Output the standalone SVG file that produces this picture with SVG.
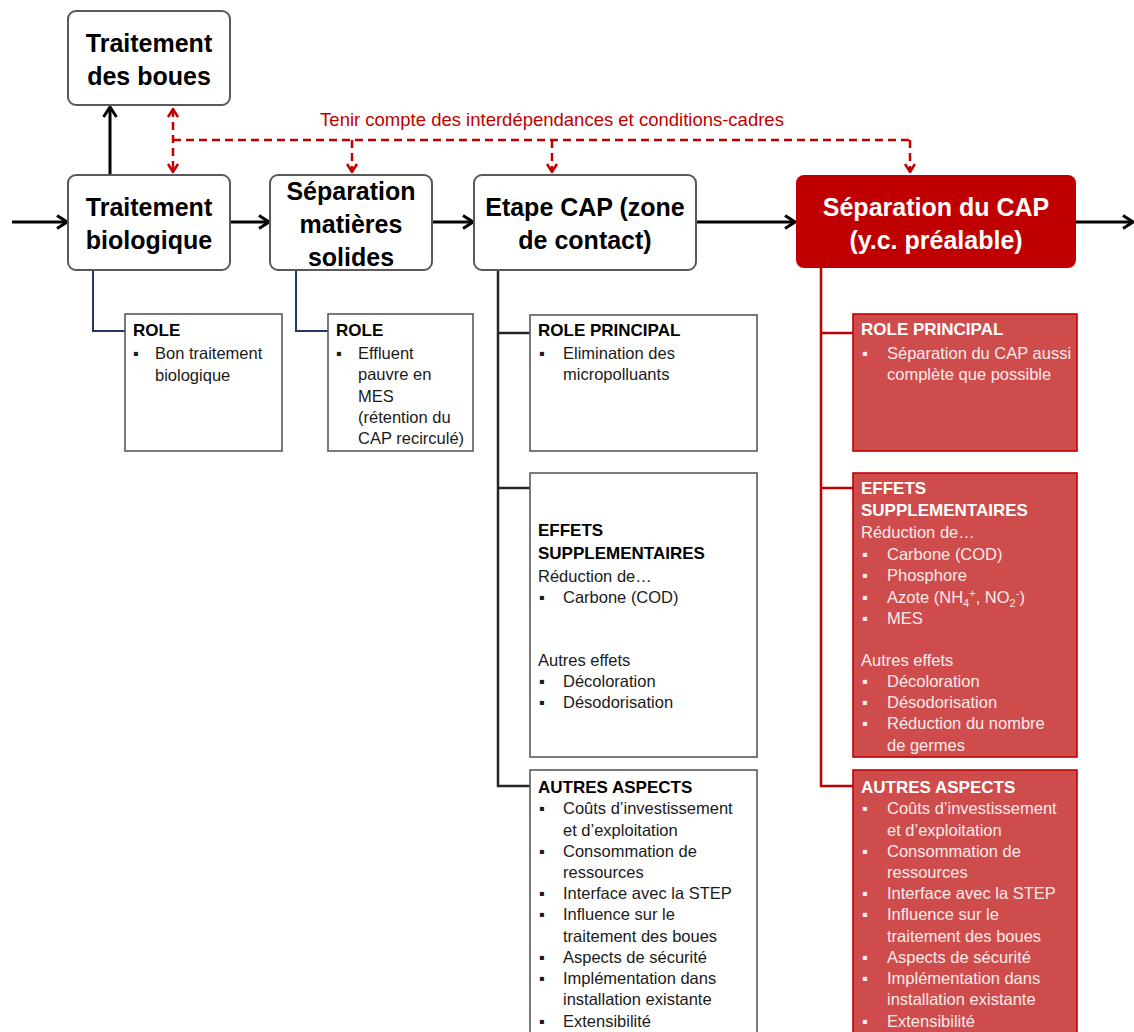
<svg xmlns="http://www.w3.org/2000/svg" width="1134" height="1032" viewBox="0 0 1134 1032">
<style>
text{font-family:"Liberation Sans",Arial,sans-serif}
.node{fill:#fff;stroke:#595959;stroke-width:2}
.title{font-size:25px;font-weight:bold;fill:#000;text-anchor:middle}
.wtitle{font-size:25px;font-weight:bold;fill:#fff;text-anchor:middle}
.card{fill:#fff;stroke:#595959;stroke-width:1.6}
.rcard{fill:#CF4C4C;stroke:#C00000;stroke-width:1.6}
.h{font-size:17px;font-weight:bold;fill:#000}
.t{font-size:16.5px;fill:#1a1a1a}
.rh{font-size:17px;font-weight:bold;fill:#fff}
.rt{font-size:16.5px;fill:#fbeaea}
.arrow{fill:none;stroke:#000;stroke-width:3;marker-end:url(#ah)}
.dash{fill:none;stroke:#C00000;stroke-width:2.5;stroke-dasharray:8 5}
.note{font-size:18.5px;fill:#C00000;text-anchor:middle}
</style>
<defs>
<marker id="ah" viewBox="0 0 12 16" refX="11" refY="8" markerWidth="12" markerHeight="16" markerUnits="userSpaceOnUse" orient="auto">
<path d="M1,1.5 L11,8 L1,14.5" fill="none" stroke="#000" stroke-width="3"/>
</marker>
<marker id="rh" viewBox="0 0 10 12" refX="9" refY="6" markerWidth="10" markerHeight="12" markerUnits="userSpaceOnUse" orient="auto-start-reverse">
<path d="M1,1 L9,6 L1,11" fill="none" stroke="#C00000" stroke-width="2.5"/>
</marker>
</defs>
<rect width="1134" height="1032" fill="#fff"/>

<g id="connectors">
<line class="arrow" x1="12" y1="222" x2="67" y2="222"/>
<line class="arrow" x1="230" y1="222" x2="269" y2="222"/>
<line class="arrow" x1="432" y1="222" x2="473" y2="222"/>
<line class="arrow" x1="696" y1="222" x2="795" y2="222"/>
<line class="arrow" x1="1076" y1="222" x2="1133" y2="222"/>
<line class="arrow" x1="110" y1="175" x2="110" y2="107"/>
<line class="dash" x1="173" y1="109" x2="173" y2="172" marker-start="url(#rh)" marker-end="url(#rh)"/>
<line class="dash" x1="173" y1="140" x2="910" y2="140"/>
<line class="dash" x1="352" y1="140" x2="352" y2="172" marker-end="url(#rh)"/>
<line class="dash" x1="552" y1="140" x2="552" y2="172" marker-end="url(#rh)"/>
<line class="dash" x1="910" y1="140" x2="910" y2="172" marker-end="url(#rh)"/>
<text class="note" x="552" y="126">Tenir compte des interdépendances et conditions-cadres</text>
<polyline points="93,270 93,331 125,331" fill="none" stroke="#1F3864" stroke-width="2"/>
<polyline points="296,270 296,331 328,331" fill="none" stroke="#1F3864" stroke-width="2"/>
<polyline points="498,270 498,786 530,786" fill="none" stroke="#262626" stroke-width="2.5"/>
<line x1="498" y1="333" x2="530" y2="333" stroke="#262626" stroke-width="2.5"/>
<line x1="498" y1="488" x2="530" y2="488" stroke="#262626" stroke-width="2.5"/>
<polyline points="821,268 821,786 853,786" fill="none" stroke="#C00000" stroke-width="2.5"/>
<line x1="821" y1="333" x2="853" y2="333" stroke="#C00000" stroke-width="2.5"/>
<line x1="821" y1="488" x2="853" y2="488" stroke="#C00000" stroke-width="2.5"/>
</g>

<g id="traitement-boues">
<rect class="node" x="68" y="11" width="162" height="94" rx="8"/>
<text class="title" x="149" y="52">Traitement</text>
<text class="title" x="149" y="85">des boues</text>
</g>
<g id="traitement-bio">
<rect class="node" x="68" y="175" width="162" height="95" rx="8"/>
<text class="title" x="149" y="216">Traitement</text>
<text class="title" x="149" y="249">biologique</text>
</g>
<g id="separation-ms">
<rect class="node" x="270" y="175" width="162" height="95" rx="8"/>
<text class="title" x="351" y="200">Séparation</text>
<text class="title" x="351" y="233">matières</text>
<text class="title" x="351" y="266">solides</text>
</g>
<g id="etape-cap">
<rect class="node" x="474" y="175" width="222" height="95" rx="8"/>
<text class="title" x="585" y="216">Etape CAP (zone</text>
<text class="title" x="585" y="249">de contact)</text>
</g>
<g id="separation-cap">
<rect x="796" y="175" width="280" height="93" rx="8" fill="#C00000"/>
<text class="wtitle" x="936" y="216">Séparation du CAP</text>
<text class="wtitle" x="936" y="249">(y.c. préalable)</text>
</g>

<g id="role-bio">
<rect class="card" x="125" y="314" width="157" height="137"/>
<text class="h" x="133" y="336">ROLE</text>
<text class="t" x="133" y="359">▪</text>
<text class="t" x="155" y="359">Bon traitement</text>
<text class="t" x="155" y="381">biologique</text>
</g>
<g id="role-sep">
<rect class="card" x="328" y="314" width="145" height="137"/>
<text class="h" x="336" y="336">ROLE</text>
<text class="t" x="336" y="359">▪</text>
<text class="t" x="358" y="359">Effluent</text>
<text class="t" x="358" y="380">pauvre en</text>
<text class="t" x="358" y="402">MES</text>
<text class="t" x="358" y="423">(rétention du</text>
<text class="t" x="358" y="444">CAP recirculé)</text>
</g>

<g id="cap-role">
<rect class="card" x="530" y="315" width="227" height="136"/>
<text class="h" x="538" y="336">ROLE PRINCIPAL</text>
<text class="t" x="539" y="359">▪</text>
<text class="t" x="563" y="359">Elimination des</text>
<text class="t" x="563" y="380">micropolluants</text>
</g>
<g id="cap-effets">
<rect class="card" x="530" y="473" width="227" height="284"/>
<text class="h" x="538" y="536">EFFETS</text>
<text class="h" x="538" y="559">SUPPLEMENTAIRES</text>
<text class="t" x="538" y="582">Réduction de…</text>
<text class="t" x="539" y="603">▪</text>
<text class="t" x="563" y="603">Carbone (COD)</text>
<text class="t" x="538" y="666">Autres effets</text>
<text class="t" x="539" y="687">▪</text>
<text class="t" x="563" y="687">Décoloration</text>
<text class="t" x="539" y="708">▪</text>
<text class="t" x="563" y="708">Désodorisation</text>
</g>
<g id="cap-autres">
<rect class="card" x="530" y="770" width="227" height="280"/>
<text class="h" x="538" y="793">AUTRES ASPECTS</text>
<text class="t" x="539" y="814">▪</text>
<text class="t" x="563" y="814">Coûts d’investissement</text>
<text class="t" x="563" y="836">et d’exploitation</text>
<text class="t" x="539" y="857">▪</text>
<text class="t" x="563" y="857">Consommation de</text>
<text class="t" x="563" y="878">ressources</text>
<text class="t" x="539" y="899">▪</text>
<text class="t" x="563" y="899">Interface avec la STEP</text>
<text class="t" x="539" y="920">▪</text>
<text class="t" x="563" y="920">Influence sur le</text>
<text class="t" x="563" y="942">traitement des boues</text>
<text class="t" x="539" y="963">▪</text>
<text class="t" x="563" y="963">Aspects de sécurité</text>
<text class="t" x="539" y="984">▪</text>
<text class="t" x="563" y="984">Implémentation dans</text>
<text class="t" x="563" y="1005">installation existante</text>
<text class="t" x="539" y="1027">▪</text>
<text class="t" x="563" y="1027">Extensibilité</text>
</g>

<g id="sep-role">
<rect class="rcard" x="853" y="314" width="224" height="137"/>
<text class="rh" x="861" y="335">ROLE PRINCIPAL</text>
<text class="rt" x="862" y="359">▪</text>
<text class="rt" x="887" y="359">Séparation du CAP aussi</text>
<text class="rt" x="887" y="380">complète que possible</text>
</g>
<g id="sep-effets">
<rect class="rcard" x="853" y="473" width="224" height="284"/>
<text class="rh" x="861" y="494">EFFETS</text>
<text class="rh" x="861" y="516">SUPPLEMENTAIRES</text>
<text class="rt" x="861" y="538">Réduction de…</text>
<text class="rt" x="862" y="560">▪</text>
<text class="rt" x="887" y="560">Carbone (COD)</text>
<text class="rt" x="862" y="581">▪</text>
<text class="rt" x="887" y="581">Phosphore</text>
<text class="rt" x="862" y="603">▪</text>
<text class="rt" x="887" y="603">Azote (NH<tspan font-size="11" dy="4">4</tspan><tspan font-size="11" dy="-10">+</tspan><tspan dy="6">, NO</tspan><tspan font-size="11" dy="4">2</tspan><tspan font-size="11" dy="-10">-</tspan><tspan dy="6">)</tspan></text>
<text class="rt" x="862" y="624">▪</text>
<text class="rt" x="887" y="624">MES</text>
<text class="rt" x="861" y="666">Autres effets</text>
<text class="rt" x="862" y="687">▪</text>
<text class="rt" x="887" y="687">Décoloration</text>
<text class="rt" x="862" y="708">▪</text>
<text class="rt" x="887" y="708">Désodorisation</text>
<text class="rt" x="862" y="729">▪</text>
<text class="rt" x="887" y="729">Réduction du nombre</text>
<text class="rt" x="887" y="751">de germes</text>
</g>
<g id="sep-autres">
<rect class="rcard" x="853" y="770" width="224" height="280"/>
<text class="rh" x="861" y="793">AUTRES ASPECTS</text>
<text class="rt" x="862" y="814">▪</text>
<text class="rt" x="887" y="814">Coûts d’investissement</text>
<text class="rt" x="887" y="836">et d’exploitation</text>
<text class="rt" x="862" y="857">▪</text>
<text class="rt" x="887" y="857">Consommation de</text>
<text class="rt" x="887" y="878">ressources</text>
<text class="rt" x="862" y="899">▪</text>
<text class="rt" x="887" y="899">Interface avec la STEP</text>
<text class="rt" x="862" y="920">▪</text>
<text class="rt" x="887" y="920">Influence sur le</text>
<text class="rt" x="887" y="942">traitement des boues</text>
<text class="rt" x="862" y="963">▪</text>
<text class="rt" x="887" y="963">Aspects de sécurité</text>
<text class="rt" x="862" y="984">▪</text>
<text class="rt" x="887" y="984">Implémentation dans</text>
<text class="rt" x="887" y="1005">installation existante</text>
<text class="rt" x="862" y="1027">▪</text>
<text class="rt" x="887" y="1027">Extensibilité</text>
</g>
</svg>
